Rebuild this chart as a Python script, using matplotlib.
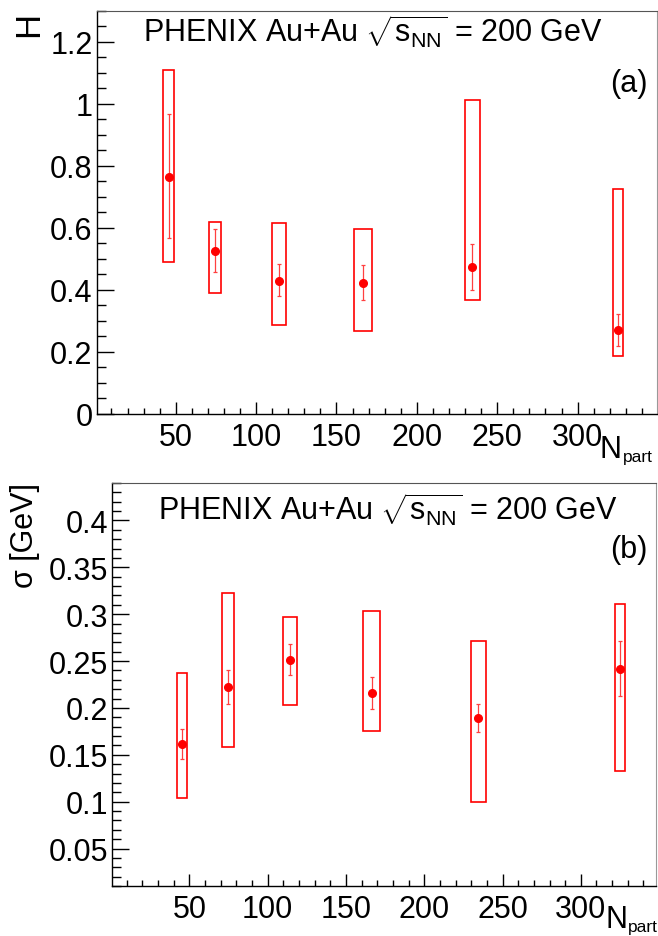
import numpy as np
import matplotlib.pyplot as plt
from matplotlib.patches import Rectangle
from matplotlib.ticker import MultipleLocator, FuncFormatter

plt.rcParams['font.family'] = ['Liberation Sans', 'DejaVu Sans']
plt.rcParams['mathtext.fontset'] = 'custom'
plt.rcParams['mathtext.rm'] = 'Liberation Sans'
plt.rcParams['mathtext.it'] = 'Liberation Sans:italic'
plt.rcParams['mathtext.bf'] = 'Liberation Sans:bold'

# N_part and its systematic uncertainty (box half width)
npart = [45.5, 74.4, 114.2, 166.6, 234.6, 325.2]
npart_sys = [3.3, 3.8, 4.4, 5.4, 4.7, 3.3]

# panel (a): H
h_val = [0.765, 0.526, 0.428, 0.422, 0.473, 0.270]
h_err_up = [0.203, 0.070, 0.055, 0.057, 0.075, 0.053]
h_err_dn = [0.199, 0.070, 0.048, 0.056, 0.075, 0.053]
h_sys_hi = [1.110, 0.619, 0.615, 0.595, 1.011, 0.724]
h_sys_lo = [0.489, 0.389, 0.286, 0.266, 0.367, 0.186]

# panel (b): sigma [GeV]
s_val = [0.162, 0.222, 0.251, 0.216, 0.189, 0.242]
s_err_up = [0.016, 0.018, 0.017, 0.017, 0.015, 0.029]
s_err_dn = [0.016, 0.018, 0.016, 0.017, 0.015, 0.029]
s_sys_hi = [0.237, 0.323, 0.297, 0.303, 0.271, 0.311]
s_sys_lo = [0.104, 0.158, 0.203, 0.175, 0.100, 0.133]

W, H = 658, 937
fig = plt.figure(figsize=(W / 100, H / 100), dpi=100)


def px(l, t, r, b):
    return [l / W, 1 - b / H, (r - l) / W, (b - t) / H]


def gfmt(v, pos):
    return '%g' % round(v, 6)


def panel(rect, xlim, ylim, ymaj, ymin, val, eup, edn, hi, lo):
    ax = fig.add_axes(rect)
    ax.set_xlim(*xlim)
    ax.set_ylim(*ylim)
    for i in range(len(npart)):
        ax.add_patch(Rectangle((npart[i] - npart_sys[i], lo[i]),
                               2 * npart_sys[i], hi[i] - lo[i],
                               fill=False, edgecolor='#ff0000', lw=1.2, zorder=2))
    ax.errorbar(npart, val, yerr=[edn, eup], fmt='o', color='red', ms=5.5,
                ecolor='#ff4040', elinewidth=0.9, capsize=1.6, capthick=0.9, zorder=3)
    ax.xaxis.set_major_locator(MultipleLocator(50))
    ax.xaxis.set_minor_locator(MultipleLocator(10))
    ax.yaxis.set_major_locator(MultipleLocator(ymaj))
    ax.yaxis.set_minor_locator(MultipleLocator(ymin))
    ax.xaxis.set_major_formatter(FuncFormatter(gfmt))
    ax.yaxis.set_major_formatter(FuncFormatter(gfmt))
    ax.tick_params(which='both', direction='in', top=False, right=False,
                   labelsize=22, width=1)
    ax.tick_params(axis='y', which='major', length=12, pad=3)
    ax.tick_params(axis='y', which='minor', length=6.5)
    ax.tick_params(axis='x', which='major', length=8.3, pad=6)
    ax.tick_params(axis='x', which='minor', length=4.3)
    ax.spines['left'].set_linewidth(1)
    ax.spines['bottom'].set_linewidth(1)
    ax.spines['top'].set_color('#555555')
    ax.spines['right'].set_color('#999999')
    return ax


ax1 = panel(px(96.7, 11.7, 657.3, 414.7), (0.8, 349.6), (0, 1.3), 0.2, 0.05,
            h_val, h_err_up, h_err_dn, h_sys_hi, h_sys_lo)
ax2 = panel(px(112.3, 484, 656, 887), (0.8, 348), (0.01, 0.44), 0.05, 0.01,
            s_val, s_err_up, s_err_dn, s_sys_hi, s_sys_lo)

title = r'PHENIX Au+Au $\sqrt{\mathrm{s_{NN}}}$ = 200 GeV'
fig.text(143 / W, 1 - 42.7 / H, title, fontsize=22, va='baseline', ha='left')
fig.text(158 / W, 1 - 520.7 / H, title, fontsize=22, va='baseline', ha='left')
fig.text(648 / W, 1 - 92 / H, '(a)', fontsize=22, va='baseline', ha='right')
fig.text(648 / W, 1 - 558 / H, '(b)', fontsize=22, va='baseline', ha='right')

# x axis titles: N with small "part" subscript
for nx, nb in [(600, 458), (605, 928)]:
    fig.text(nx / W, 1 - nb / H, 'N', fontsize=22, va='baseline', ha='left')
    fig.text((nx + 23) / W, 1 - (nb + 4) / H, 'part', fontsize=12.5,
             va='baseline', ha='left')

fig.text(28.5 / W, 1 - 12 / H, 'H', fontsize=25, rotation=90, ha='center', va='top')
fig.text(24.5 / W, 1 - 483 / H, 'σ [GeV]', fontsize=22, rotation=90, ha='center', va='top')

fig.savefig('out.png', dpi=100)
